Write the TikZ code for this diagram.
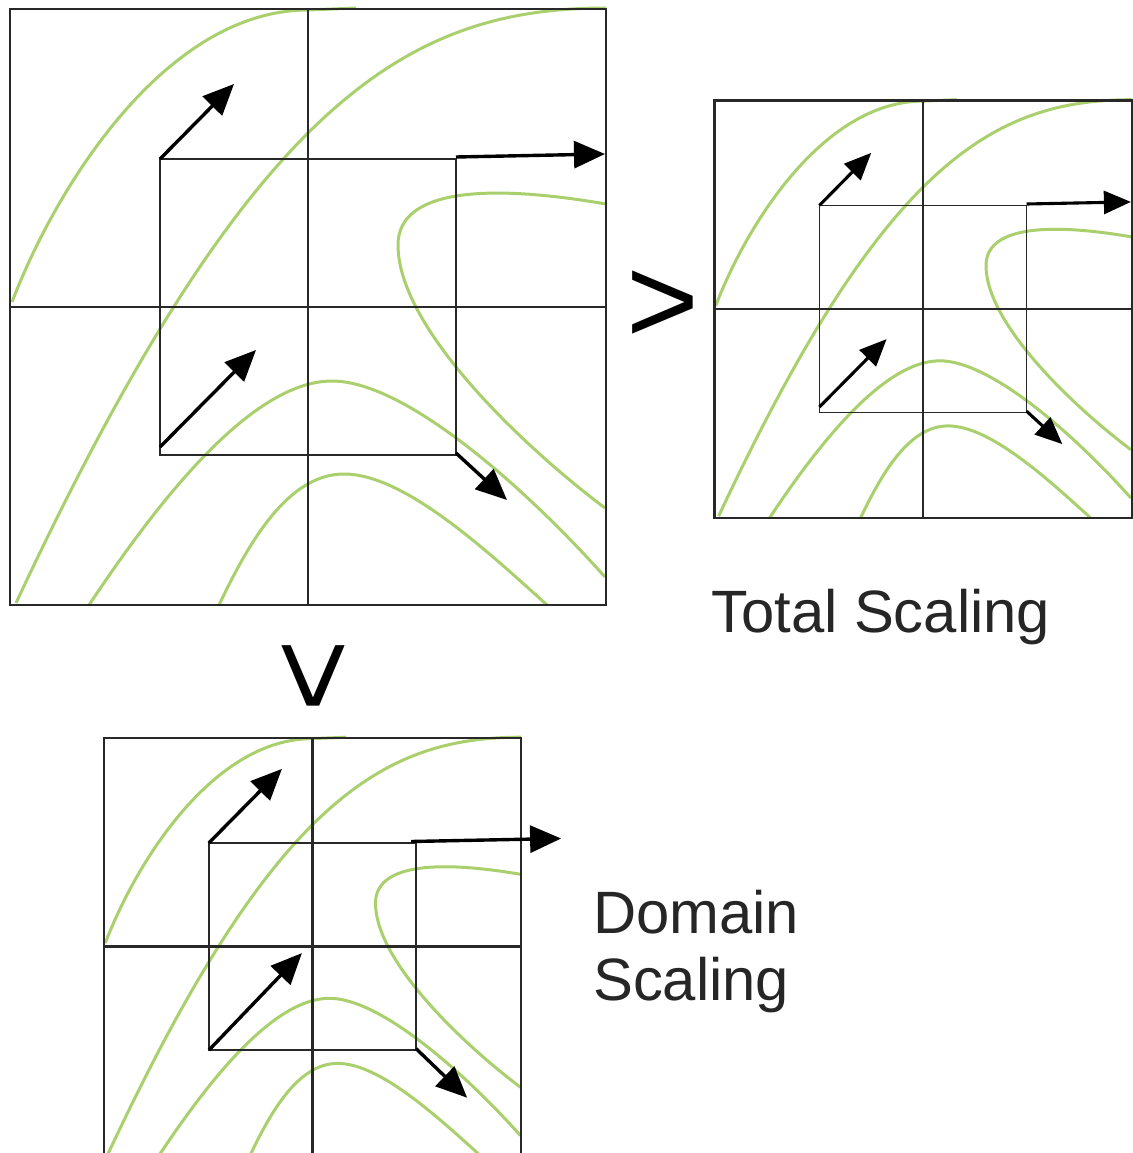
\documentclass[tikz,border=0pt]{standalone}
\usepackage{fontspec}
\setmainfont{Liberation Sans}
\usetikzlibrary{arrows.meta}

\definecolor{contour}{RGB}{170,208,110}
\definecolor{frame}{RGB}{40,40,40}

\tikzset{
  framebox/.style={draw=frame, line width=2.2bp},
  axisline/.style={draw=frame, line width=2.1bp},
  cellbox/.style={draw=frame, line width=1.6bp},
  level/.style={draw=contour, line width=3bp},
  grad/.style={draw=black, line width=3.4bp, line cap=butt,
    -{Triangle[length=31bp,width=27bp]}},
  gradsmall/.style={draw=black, line width=3.1bp, line cap=butt,
    -{Triangle[length=27bp,width=23bp]}},
  caption/.style={font=\fontsize{60}{67}\selectfont, inner sep=0pt, text=black!85},
  relation/.style={font=\fontsize{125}{125}\selectfont, inner sep=0pt}
}

% One panel in coordinates relative to its centre (half-size 298):
% level curves, frame, axes and the cell around the centre.
\newcommand\drawpanel[1]{%
  \draw[level] (-296,-5) .. controls (-250,-125) and (-140,-297) .. (0,-297) -- (48,-299);
  \draw[level] (-292,296) .. controls (-57,-207) and (100,-299) .. (298,-299);
  \draw[level] (298,-103) .. controls (170,-125) and (90,-115) .. (90,-62)
               .. controls (90,20) and (212,137) .. (297,201);
  \draw[level] (-219,298) .. controls (-157,205) and (-60,74) .. (24,74)
               .. controls (100,74) and (224,188) .. (297,270);
  \draw[level] (-89,298) .. controls (-59,235) and (-20,167) .. (36,167)
               .. controls (95,167) and (175,240) .. (239,298);
  \draw[framebox] (-298,-298) rectangle (298,298);
  \draw[axisline] (-298,0) -- (298,0);
  \draw[axisline] (0,-298) -- (0,298);
  \draw[cellbox] (-148,-148) rectangle (148,148);
  \coordinate (#1-tl) at (-148,-148);
  \coordinate (#1-tr) at (148,-150);
  \coordinate (#1-bl) at (-148,140);
  \coordinate (#1-blc) at (-148,148);
  \coordinate (#1-br) at (148,146);
}

\begin{document}
\begin{tikzpicture}[x=1bp, y=-1bp]
  \useasboundingbox (0,0) rectangle (1133,1153);
  \fill[white] (0,0) rectangle (1133,1153);

  % original problem
  \begin{scope}[shift={(308,307)}]
    \drawpanel{orig}
  \end{scope}
  \draw[grad] (orig-tl) -- ++(74,-75);
  \draw[grad] (orig-tr) -- ++(149,-3);
  \draw[grad] (orig-bl) -- ++(96,-97);
  \draw[grad] (orig-br) -- ++(51,47);

  % total scaling: domain and gradients shrink together
  \begin{scope}[shift={(923,309)}, scale=0.7]
    \drawpanel{total}
    \draw[gradsmall] (total-tl) -- ++(74,-75);
    \draw[gradsmall] (total-tr) -- ++(149,-3);
    \draw[gradsmall] (total-bl) -- ++(96,-97);
    \draw[gradsmall] (total-br) -- ++(51,47);
  \end{scope}

  % domain scaling: only the domain shrinks
  \begin{scope}[shift={(312.5,946.5)}, scale=0.7]
    \drawpanel{dom}
  \end{scope}
  \draw[grad] ([xshift=-5bp]dom-tr) -- ++(150,-3);
  \draw[grad] (dom-tl) -- ++(73,-74);
  \draw[grad] (dom-blc) -- ++(93,-97);
  \draw[grad] (dom-br) -- ++(51,49);

  % comparison signs and captions
  \node[relation] (cmpright) at (663,307) {>};
  \node[relation, rotate=-90] (cmpdown) at (309,676) {>};
  \node[caption, anchor=base west] (totallabel) at (711,632) {Total Scaling};
  \node[caption, anchor=base west, align=left] (domlabel) at (593,1000) {Domain\\Scaling};
\end{tikzpicture}
\end{document}
